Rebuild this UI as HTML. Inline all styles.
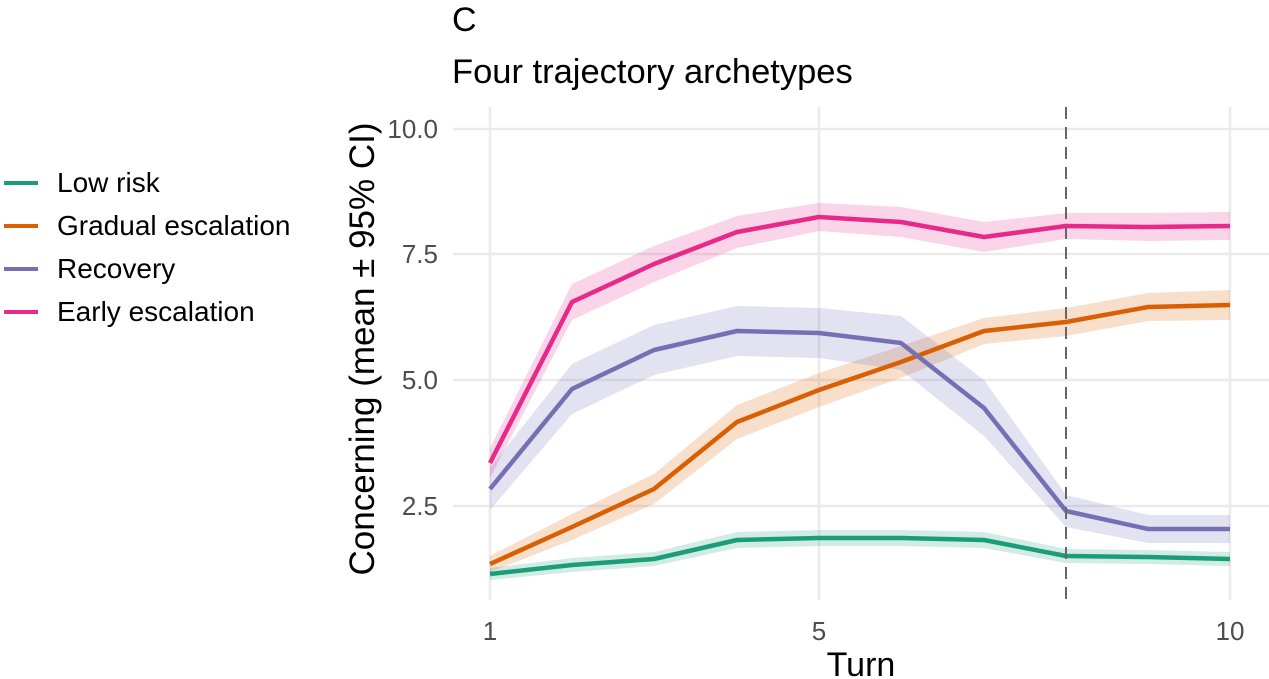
<!DOCTYPE html>
<html><head><style>body{margin:0;background:#fff}svg{display:block}</style></head><body>
<svg width="1269" height="679" xmlns="http://www.w3.org/2000/svg" font-family="Liberation Sans, sans-serif">
<rect width="1269" height="679" fill="#fff"/>
<g stroke="#ebebeb" stroke-width="2.5">
<line x1="453" x2="1269" y1="129" y2="129"/><line x1="453" x2="1269" y1="254" y2="254"/>
<line x1="453" x2="1269" y1="380" y2="380"/><line x1="453" x2="1269" y1="506" y2="506"/>
<line x1="490" x2="490" y1="107" y2="600"/><line x1="819" x2="819" y1="107" y2="600"/><line x1="1230" x2="1230" y1="107" y2="600"/>
</g>
<g fill-opacity="0.2">
<polygon fill="#1b9e77" points="490,568 572,558 654,552 737,532 819,530 901,530 984,532 1066,549 1148,550 1230,552 1230,566 1148,564 1066,563 984,548 901,546 819,546 737,548 654,566 572,572 490,580"/>
<polygon fill="#d95f02" points="490,556 572,514 654,474 737,405 819,373 901,346 984,318 1066,308 1148,293 1230,290 1230,320 1148,321 1066,336 984,344 901,378 819,407 737,439 654,504 572,540 490,572"/>
<polygon fill="#7570b3" points="490,468 572,364 654,325 737,306 819,308 901,316 984,380 1066,495 1148,515 1230,515 1230,543 1148,543 1066,527 984,436 901,370 819,358 737,356 654,375 572,414 490,510"/>
<polygon fill="#e7298a" points="490,448 572,284 654,246 737,216 819,203 901,207 984,222 1066,213 1148,213 1230,212 1230,240 1148,241 1066,239 984,252 901,237 819,231 737,248 654,282 572,320 490,478"/>
</g>
<g fill="none" stroke-width="4.5" stroke-linejoin="round">
<polyline stroke="#1b9e77" points="490,574 572,565 654,559 737,540 819,538 901,538 984,540 1066,556 1148,557 1230,559"/>
<polyline stroke="#d95f02" points="490,564 572,527 654,489 737,422 819,390 901,362 984,331 1066,322 1148,307 1230,305"/>
<polyline stroke="#7570b3" points="490,489 572,389 654,350 737,331 819,333 901,343 984,408 1066,511 1148,529 1230,529"/>
<polyline stroke="#e7298a" points="490,463 572,302 654,264 737,232 819,217 901,222 984,237 1066,226 1148,227 1230,226"/>
</g>
<line x1="1066" x2="1066" y1="107" y2="600" stroke="#666" stroke-width="2" stroke-dasharray="12,8"/>
<g fill="#4d4d4d" font-size="26" text-anchor="end">
<text x="438" y="138">10.0</text><text x="438" y="263">7.5</text><text x="438" y="389">5.0</text><text x="438" y="515">2.5</text>
</g>
<g fill="#4d4d4d" font-size="26" text-anchor="middle">
<text x="490" y="640">1</text><text x="819" y="640">5</text><text x="1230" y="640">10</text>
</g>
<text x="861" y="676" font-size="34" text-anchor="middle">Turn</text>
<text transform="translate(374,349) rotate(-90)" font-size="35" text-anchor="middle">Concerning (mean ± 95% CI)</text>
<text x="452" y="31" font-size="34">C</text>
<text x="452" y="83" font-size="34.5">Four trajectory archetypes</text>
<g stroke-width="4">
<line x1="4" x2="38" y1="183" y2="183" stroke="#1b9e77"/><line x1="4" x2="38" y1="226" y2="226" stroke="#d95f02"/>
<line x1="4" x2="38" y1="269" y2="269" stroke="#7570b3"/><line x1="4" x2="38" y1="312" y2="312" stroke="#e7298a"/>
</g>
<g font-size="28">
<text x="57" y="192">Low risk</text><text x="57" y="235">Gradual escalation</text>
<text x="57" y="278">Recovery</text><text x="57" y="321">Early escalation</text>
</g>
</svg>
</body></html>
